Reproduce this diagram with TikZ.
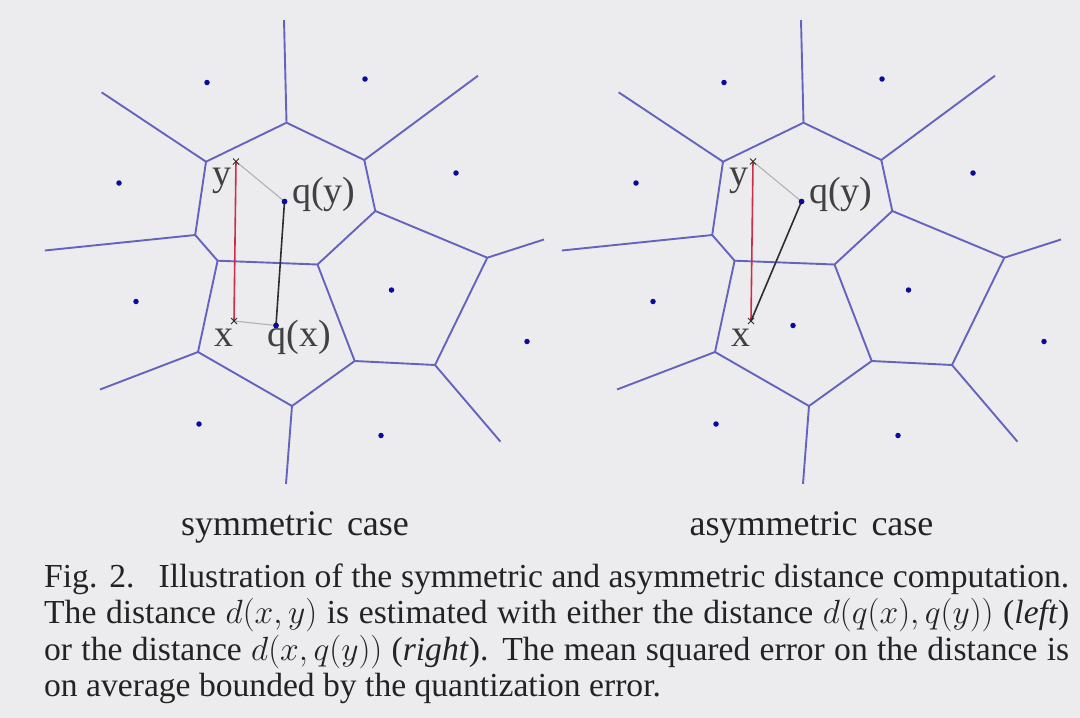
\RequirePackage{fix-cm}
\documentclass[tikz,border=0pt]{standalone}
\usepackage{fontspec}
\setmainfont{Liberation Serif}
\usepackage{graphicx}
\definecolor{bgc}{RGB}{236,236,238}
\definecolor{vor}{RGB}{100,100,192}
\definecolor{site}{RGB}{10,10,160}
\definecolor{redl}{RGB}{205,45,70}
\definecolor{grayl}{RGB}{178,178,178}
\definecolor{blk}{RGB}{45,45,45}
\definecolor{txt}{RGB}{35,35,35}
\definecolor{lblc}{RGB}{65,65,65}
\tikzset{
  vorline/.style={draw=vor, line width=1.9pt, line join=round},
  sitedot/.style={circle, fill=site, inner sep=0pt, minimum size=5.5pt},
  pointmark/.style={inner sep=0pt, minimum size=0pt},
  redline/.style={draw=redl, line width=1.6pt},
  grayline/.style={draw=grayl, line width=1.1pt},
  blkline/.style={draw=blk, line width=1.6pt},
  crossmark/.style={draw=blk, line width=0.9pt},
  ptlabel/.style={inner sep=0pt, text=lblc, font=\fontsize{38}{42}\selectfont},
  subcaption/.style={inner sep=0pt, text=txt, font=\fontsize{36}{40}\selectfont},
  captext/.style={inner sep=0pt, text=txt, font=\fontsize{33.6}{37}\selectfont},
}
\newcommand{\voronoipanel}[1]{%
  \coordinate (#1A) at (286.5,122.7);
  \coordinate (#1B) at (206,161.7);
  \coordinate (#1C) at (364.3,160);
  \coordinate (#1D) at (375.3,211);
  \coordinate (#1E) at (195.2,235);
  \coordinate (#1F) at (217.6,260.7);
  \coordinate (#1G) at (317.5,264.5);
  \coordinate (#1H) at (487.3,257.7);
  \coordinate (#1I) at (198,352);
  \coordinate (#1J) at (354.7,361);
  \coordinate (#1K) at (435,365);
  \coordinate (#1L) at (292,406);
  \coordinate (#1rA) at (284,20);
  \coordinate (#1rB) at (101.6,92.3);
  \coordinate (#1rC) at (478,75.7);
  \coordinate (#1rE) at (44.8,250.5);
  \coordinate (#1rH) at (544,239.5);
  \coordinate (#1rI) at (100,389.5);
  \coordinate (#1rL) at (286,484);
  \coordinate (#1rK) at (500.5,441.7);
  \draw[vorline] (#1rA) -- (#1A) -- (#1B) -- (#1rB);
  \draw[vorline] (#1A) -- (#1C) -- (#1rC);
  \draw[vorline] (#1C) -- (#1D) -- (#1H) -- (#1rH);
  \draw[vorline] (#1B) -- (#1E) -- (#1rE);
  \draw[vorline] (#1E) -- (#1F) -- (#1G) -- (#1D);
  \draw[vorline] (#1F) -- (#1I) -- (#1rI);
  \draw[vorline] (#1I) -- (#1L) -- (#1rL);
  \draw[vorline] (#1L) -- (#1J) -- (#1K) -- (#1rK);
  \draw[vorline] (#1G) -- (#1J);
  \draw[vorline] (#1H) -- (#1K);
  \node[pointmark] (#1y) at (236,161.5) {};
  \node[pointmark] (#1x) at (234,321) {};
}
\newcommand{\sitedots}[1]{%
  \node[sitedot] (#1s1) at (207,82.5) {};
  \node[sitedot] (#1s2) at (365,79) {};
  \node[sitedot] (#1s3) at (119,183) {};
  \node[sitedot] (#1s4) at (456,173) {};
  \node[sitedot] (#1s6) at (136,301.5) {};
  \node[sitedot] (#1s7) at (391.5,290) {};
  \node[sitedot] (#1s9) at (527,341.5) {};
  \node[sitedot] (#1s10) at (199,424) {};
  \node[sitedot] (#1s11) at (381,435.5) {};
  \draw[crossmark] ([shift={(-3,-3)}]#1y.center) -- ([shift={(3,3)}]#1y.center);
  \draw[crossmark] ([shift={(-3,3)}]#1y.center) -- ([shift={(3,-3)}]#1y.center);
  \draw[crossmark] ([shift={(-3,-3)}]#1x.center) -- ([shift={(3,3)}]#1x.center);
  \draw[crossmark] ([shift={(-3,3)}]#1x.center) -- ([shift={(3,-3)}]#1x.center);
}
\begin{document}
\begin{tikzpicture}[x=1pt,y=-1pt]
\fill[bgc] (0,0) rectangle (1080,718);
\useasboundingbox (0,0) rectangle (1080,718);
% ---------- left panel: symmetric
\begin{scope}
  \voronoipanel{l}
  \node[sitedot] (lqy) at (284.5,201.5) {};
  \node[sitedot] (lqx) at (276,325.5) {};
  \draw[grayline] (ly.center) -- (lqy.center);
  \draw[grayline] (lx.center) -- (lqx.center);
  \draw[redline] (ly.center) -- (lx.center);
  \draw[blkline] (lqy.center) -- (lqx.center);
  \sitedots{l}
  \node[sitedot] at (lqy) {};
  \node[sitedot] at (lqx) {};
  \node[ptlabel, anchor=base west] (lylab) at (212.5,185) {y};
  \node[ptlabel, anchor=base west] (lqylab) at (292,203) {q(y)};
  \node[ptlabel, anchor=base west] (lxlab) at (214.5,346.5) {x};
  \node[ptlabel, anchor=base west] (lqxlab) at (267.5,346.5) {q(x)};
\end{scope}
% ---------- right panel: asymmetric
\begin{scope}[shift={(517,0)}]
  \voronoipanel{r}
  \node[sitedot] (rqy) at (284.5,201.5) {};
  \node[sitedot] (rqx) at (276,325.5) {};
  \draw[grayline] (ry.center) -- (rqy.center);
  \draw[redline] (ry.center) -- (rx.center);
  \draw[blkline] (rqy.center) -- (rx.center);
  \sitedots{r}
  \node[sitedot] at (rqy) {};
  \node[ptlabel, anchor=base west] (rylab) at (212.5,185) {y};
  \node[ptlabel, anchor=base west] (rqylab) at (292,203) {q(y)};
  \node[ptlabel, anchor=base west] (rxlab) at (214.5,346.5) {x};
\end{scope}
% ---------- sub captions
\node[subcaption, anchor=base] (symcap) at (295,535) {symmetric\hspace*{14pt}case};
\node[subcaption, anchor=base] (asymcap) at (811.5,535) {asymmetric\hspace*{14pt}case};
% ---------- caption
\node[captext, anchor=base west] (cap1) at (44,587.3) {\makebox[1025pt][s]{Fig. 2.\hspace*{24pt}Illustration of the symmetric and asymmetric distance computation.}};
\node[captext, anchor=base west] (cap2) at (44,623.8) {\makebox[1025pt][s]{The distance $d(x,y)$ is estimated with either the distance $d(q(x),q(y))$ (\textit{left})}};
\node[captext, anchor=base west] (cap3) at (44,660.3) {\makebox[1025pt][s]{or the distance $d(x,q(y))$ (\textit{right}). The mean squared error on the distance is}};
\node[captext, anchor=base west] (cap4) at (44,696.8) {on average bounded by the quantization error.};
\end{tikzpicture}
\end{document}
